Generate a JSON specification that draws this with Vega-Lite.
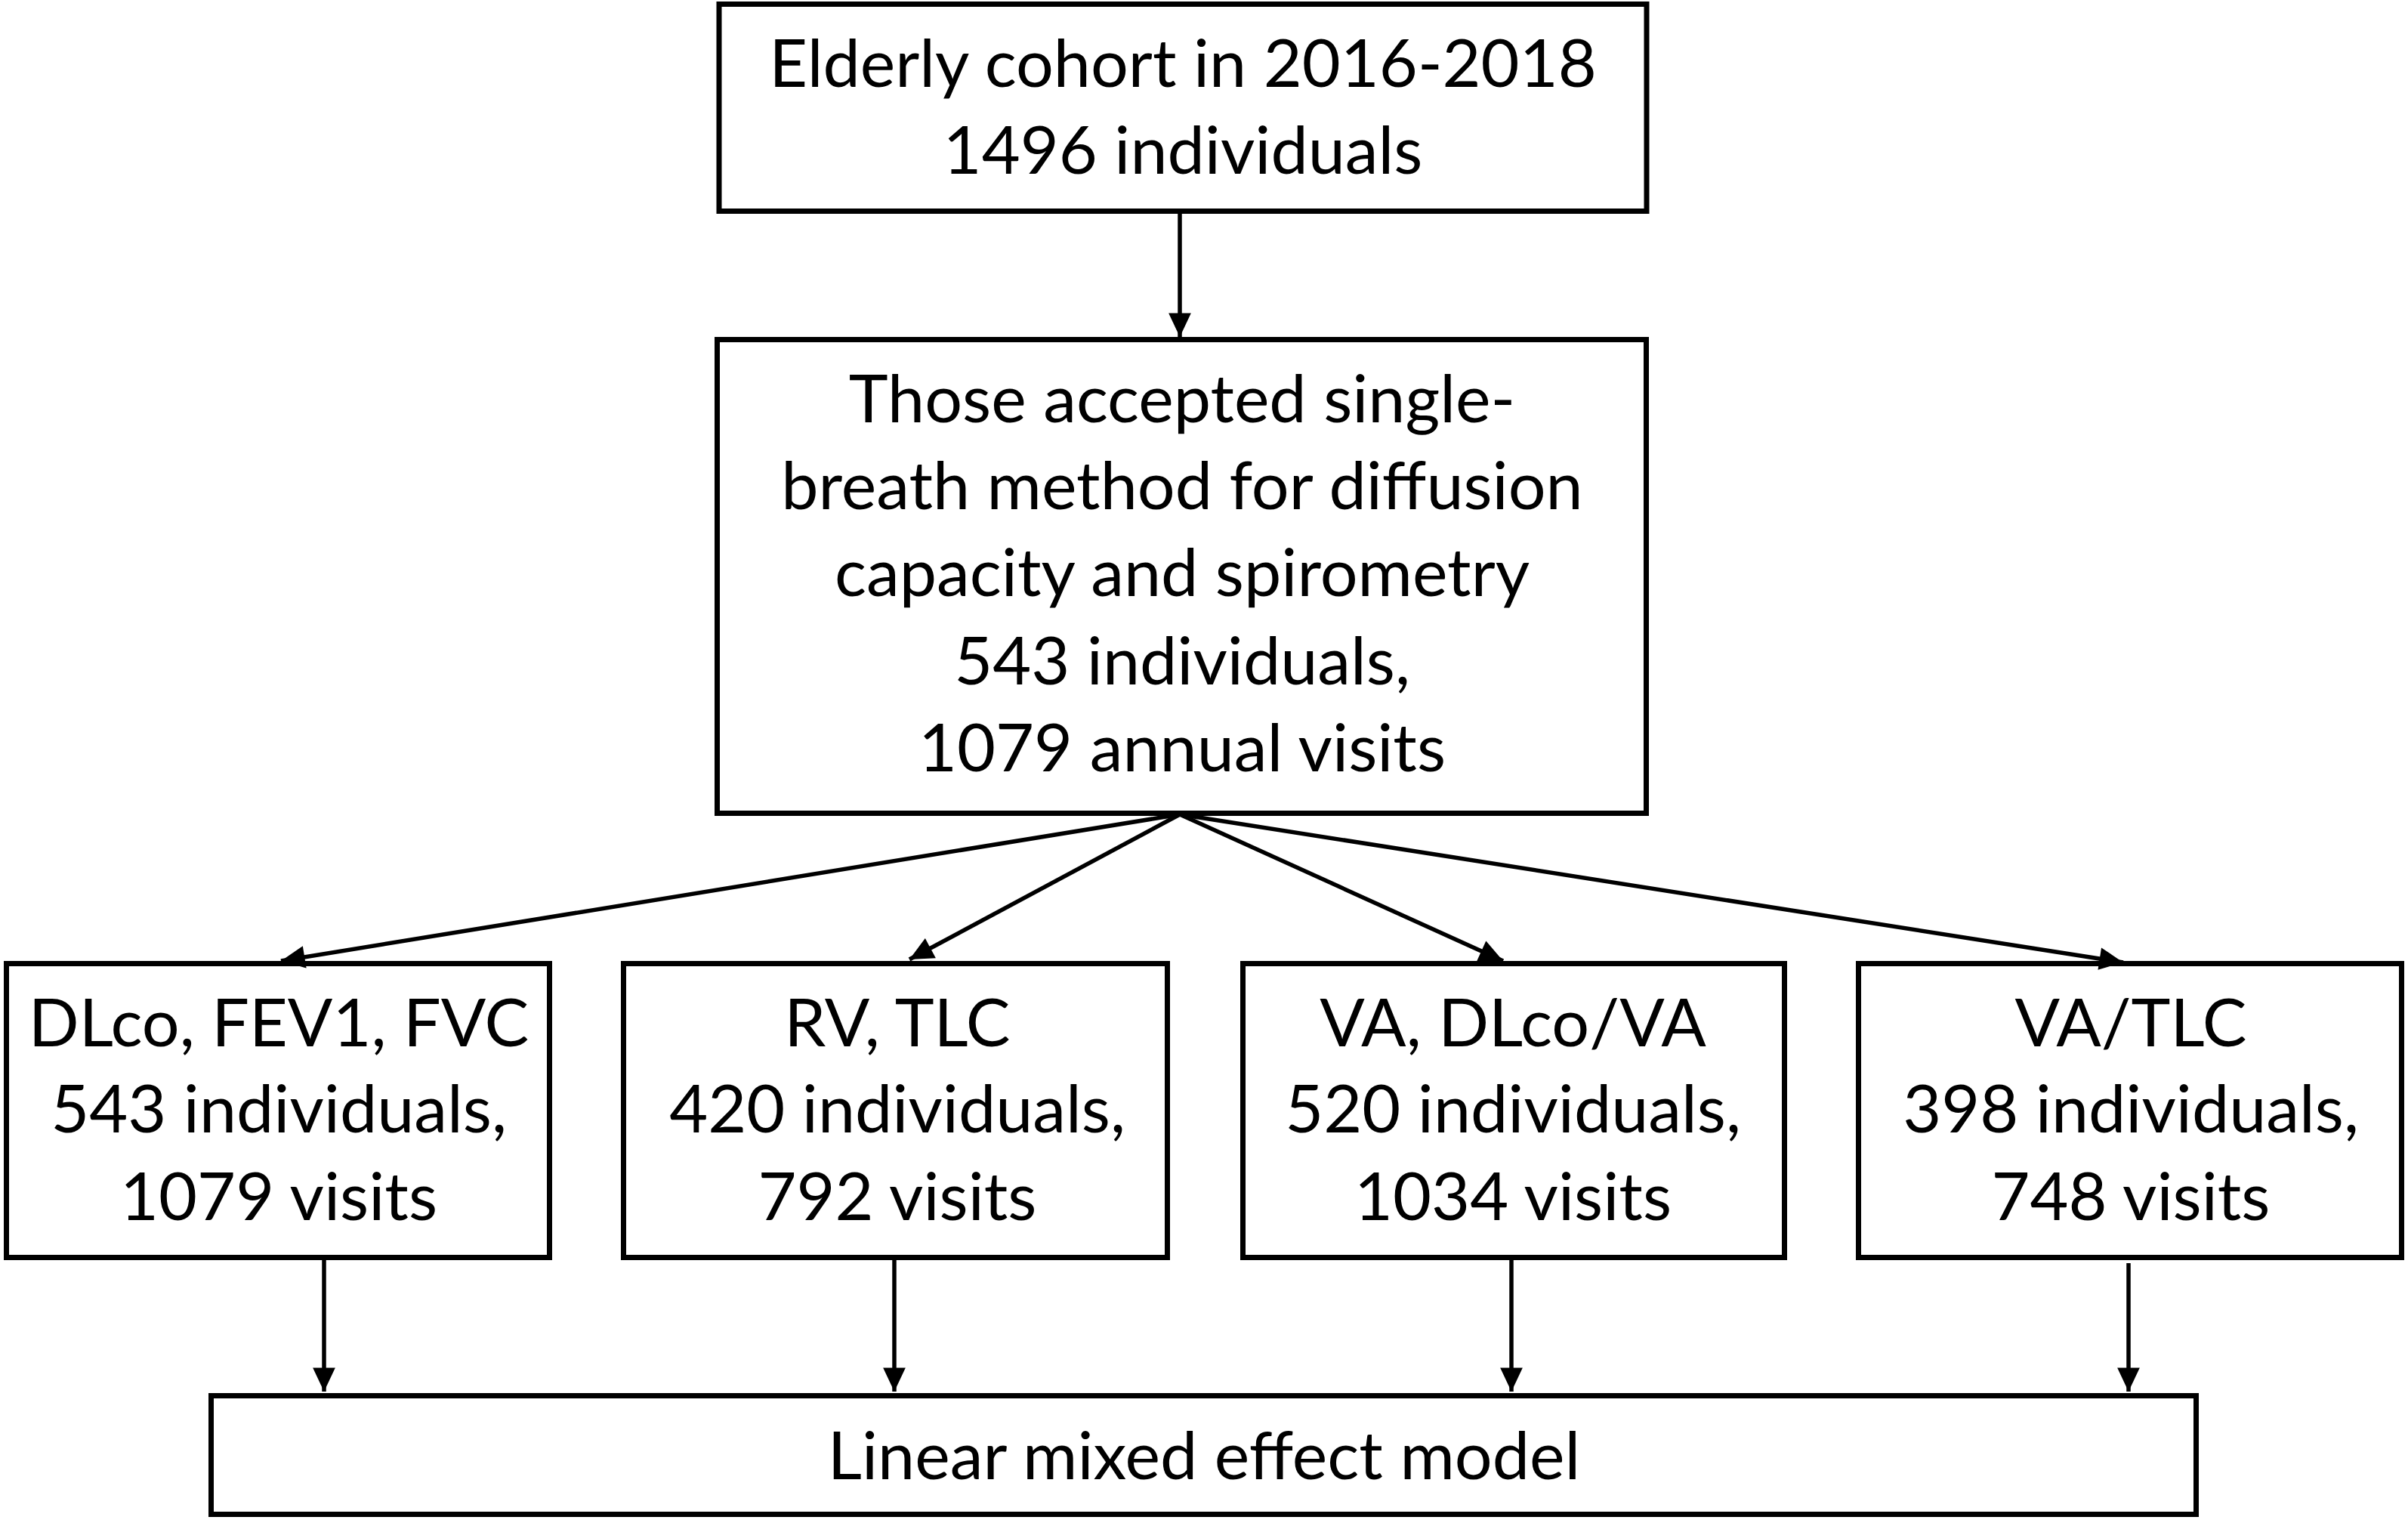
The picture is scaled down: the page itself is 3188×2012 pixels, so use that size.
{
  "$schema": "https://vega.github.io/schema/vega-lite/v6.json",
  "width": 3188,
  "height": 2012,
  "autosize": {"type": "fit", "contains": "padding"},
  "padding": 0,
  "background": "white",
  "config": {"view": {"stroke": null}},
  "datasets": {
    "boxes": [
      {"box": "cohort", "left": 952, "right": 2180, "top": 5.5, "bottom": 279.5},
      {"box": "accepted", "left": 949.5, "right": 2179.5, "top": 449.5, "bottom": 1076.5},
      {"box": "DLco", "left": 8.5, "right": 727.5, "top": 1275.5, "bottom": 1664.5},
      {"box": "RV", "left": 825.5, "right": 1545.5, "top": 1275.5, "bottom": 1664.5},
      {"box": "VA", "left": 1645.5, "right": 2362.5, "top": 1275.5, "bottom": 1664.5},
      {"box": "VATLC", "left": 2460.5, "right": 3179.5, "top": 1275.5, "bottom": 1664.5},
      {"box": "model", "left": 279.5, "right": 2907.5, "top": 1847.5, "bottom": 2004.5}
    ],
    "lines": [
      {"label": "Elderly cohort in 2016-2018", "cx": 1566, "base": 115},
      {"label": "1496 individuals", "cx": 1566, "base": 230},
      {"label": "Those accepted single-", "cx": 1565, "base": 559},
      {"label": "breath method for diffusion", "cx": 1565, "base": 674},
      {"label": "capacity and spirometry", "cx": 1565, "base": 789},
      {"label": "543 individuals,", "cx": 1565, "base": 906},
      {"label": "1079 annual visits", "cx": 1565, "base": 1021},
      {"label": "DLco, FEV1, FVC", "cx": 369, "base": 1385},
      {"label": "543 individuals,", "cx": 369, "base": 1499},
      {"label": "1079 visits", "cx": 369, "base": 1615},
      {"label": "RV, TLC", "cx": 1188, "base": 1385},
      {"label": "420 individuals,", "cx": 1188, "base": 1499},
      {"label": "792 visits", "cx": 1188, "base": 1615},
      {"label": "VA, DLco/VA", "cx": 2003, "base": 1385},
      {"label": "520 individuals,", "cx": 2003, "base": 1499},
      {"label": "1034 visits", "cx": 2003, "base": 1615},
      {"label": "VA/TLC", "cx": 2821, "base": 1385},
      {"label": "398 individuals,", "cx": 2821, "base": 1499},
      {"label": "748 visits", "cx": 2821, "base": 1615},
      {"label": "Linear mixed effect model", "cx": 1594, "base": 1958}
    ],
    "arrows": [
      {"from": "cohort", "to": "accepted", "x1": 1562, "y1": 283, "x2": 1562, "y2": 446},
      {"from": "accepted", "to": "DLco", "x1": 1562, "y1": 1078, "x2": 372, "y2": 1272},
      {"from": "accepted", "to": "RV", "x1": 1562, "y1": 1078, "x2": 1204, "y2": 1270},
      {"from": "accepted", "to": "VA", "x1": 1562, "y1": 1078, "x2": 1990, "y2": 1272},
      {"from": "accepted", "to": "VATLC", "x1": 1562, "y1": 1078, "x2": 2811, "y2": 1274},
      {"from": "DLco", "to": "model", "x1": 429, "y1": 1668, "x2": 429, "y2": 1842},
      {"from": "RV", "to": "model", "x1": 1184, "y1": 1668, "x2": 1184, "y2": 1842},
      {"from": "VA", "to": "model", "x1": 2001, "y1": 1668, "x2": 2001, "y2": 1842},
      {"from": "VATLC", "to": "model", "x1": 2818, "y1": 1672, "x2": 2818, "y2": 1842}
    ]
  },
  "layer": [
    {
      "data": {"name": "arrows"},
      "mark": {"type": "rule", "color": "black", "strokeWidth": 5.5},
      "encoding": {
        "x": {"field": "x1", "type": "quantitative", "scale": {"domain": [0, 3188], "nice": false, "zero": false}, "axis": null},
        "y": {"field": "y1", "type": "quantitative", "scale": {"domain": [0, 2012], "nice": false, "zero": false, "reverse": true}, "axis": null},
        "x2": {"field": "x2"},
        "y2": {"field": "y2"}
      }
    },
    {
      "data": {"name": "boxes"},
      "mark": {"type": "rect", "fill": "white", "stroke": "black", "strokeWidth": 7},
      "encoding": {
        "x": {"field": "left", "type": "quantitative", "scale": {"domain": [0, 3188], "nice": false, "zero": false}, "axis": null},
        "x2": {"field": "right"},
        "y": {"field": "top", "type": "quantitative", "scale": {"domain": [0, 2012], "nice": false, "zero": false, "reverse": true}, "axis": null},
        "y2": {"field": "bottom"}
      }
    },
    {
      "data": {"name": "arrows"},
      "transform": [
        {"calculate": "atan2(datum.x1 - datum.x2, datum.y2 - datum.y1) * 180 / PI", "as": "heading"}
      ],
      "mark": {"type": "point", "shape": "M0,0L-0.47,-1L0.47,-1Z", "size": 4000, "filled": true, "color": "black", "opacity": 1, "strokeWidth": 0},
      "encoding": {
        "x": {"field": "x2", "type": "quantitative", "scale": {"domain": [0, 3188], "nice": false, "zero": false}, "axis": null},
        "y": {"field": "y2", "type": "quantitative", "scale": {"domain": [0, 2012], "nice": false, "zero": false, "reverse": true}, "axis": null},
        "angle": {"field": "heading", "type": "quantitative", "scale": null}
      }
    },
    {
      "data": {"name": "lines"},
      "mark": {"type": "text", "font": "Lato", "fontSize": 88, "color": "black", "align": "center", "baseline": "alphabetic"},
      "encoding": {
        "x": {"field": "cx", "type": "quantitative", "scale": {"domain": [0, 3188], "nice": false, "zero": false}, "axis": null},
        "y": {"field": "base", "type": "quantitative", "scale": {"domain": [0, 2012], "nice": false, "zero": false, "reverse": true}, "axis": null},
        "text": {"field": "label", "type": "nominal"}
      }
    }
  ]
}
